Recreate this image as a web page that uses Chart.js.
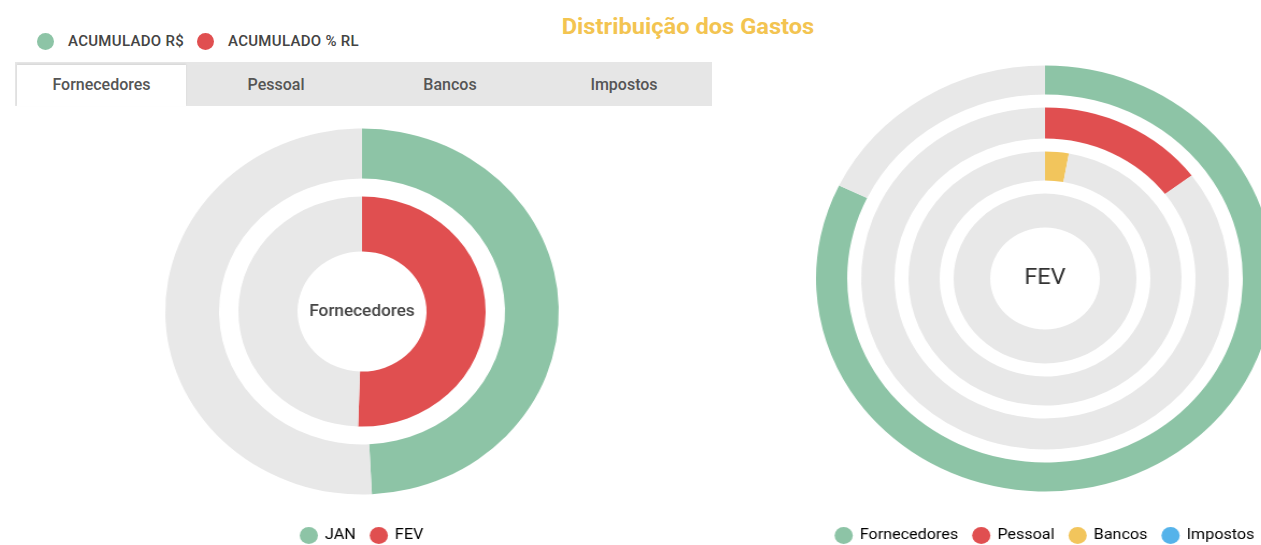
<!DOCTYPE html>
<html lang="pt-BR">
<head>
<meta charset="utf-8">
<title>Distribuição dos Gastos</title>
<script src="https://cdn.jsdelivr.net/npm/chart.js@4.4.1/dist/chart.umd.min.js"></script>
<style>
  html, body {
    margin: 0;
    padding: 0;
    width: 1261px;
    height: 545px;
    overflow: hidden;
    background: #fff;
    font-family: Roboto, "Open Sans", sans-serif;
    position: relative;
  }
  .title {
    position: absolute;
    left: 0;
    width: 1376px;
    top: 14px;
    text-align: center;
    font-size: 22px;
    font-weight: 700;
    color: #f3c451;
    transform: scaleX(1.075);
  }
  .topLegend {
    position: absolute;
    top: 32px;
    left: 37px;
    font-size: 15px;
    font-weight: 500;
    color: #444;
    display: flex;
    align-items: center;
    letter-spacing: 0.3px;
  }
  .dot {
    display: inline-block;
    width: 17px;
    height: 17px;
    border-radius: 50%;
    margin-right: 14px;
  }
  .tabs {
    position: absolute;
    left: 15px;
    top: 62px;
    width: 697px;
    height: 44px;
    background: #e6e6e6;
  }
  .tab {
    position: absolute;
    top: 0;
    width: 174px;
    height: 44px;
    text-align: center;
    line-height: 46px;
    font-size: 16px;
    font-weight: 500;
    color: #555;
  }
  .tab.active {
    background: #fff;
    top: 3px;
    height: 41px;
    width: 169px;
    line-height: 40px;
    box-shadow: 0 -1px 2px rgba(0, 0, 0, 0.08);
  }
  .chartBox {
    position: absolute;
    transform: scaleX(1.075);
    transform-origin: center center;
  }
</style>
</head>
<body>
<div class="title">Distribuição dos Gastos</div>

<div class="topLegend">
  <span class="dot" style="background:#8dc4a6"></span>
  <span style="margin-right:13px">ACUMULADO R$</span>
  <span class="dot" style="background:#e04f50"></span>
  <span>ACUMULADO % RL</span>
</div>

<div class="tabs">
  <div class="tab active" style="left:2px">Fornecedores</div>
  <div class="tab" style="left:174px">Pessoal</div>
  <div class="tab" style="left:348px">Bancos</div>
  <div class="tab" style="left:522px">Impostos</div>
</div>

<div class="chartBox" style="left:142px; top:109px; width:440px; height:444px;">
  <canvas id="mesesChart"></canvas>
</div>
<div class="chartBox" style="left:795px; top:43px; width:500px; height:510px;">
  <canvas id="gastosChart"></canvas>
</div>

<script>
// data (percentages)
const meses = ["JAN", "FEV"];
const fornecedoresPorMes = [49.2, 50.5];

const categorias = ["Fornecedores", "Pessoal", "Bancos", "Impostos"];
const gastosFev = [82.2, 14.7, 2.8, 0];

const coresMeses = ["#8dc4a6", "#e04f50"];
const coresCategorias = ["#8dc4a6", "#e04f50", "#f2c55c", "#55b3ea"];
const cinza = "#e8e8e8";

// ring thickness (relative weights) and gaps between rings
const pesosMeses = [50, 55];
const pesosCategorias = [29, 31, 29, 34];

// text in the middle of the doughnut
const centerText = {
  id: "centerText",
  afterDraw(chart, args, opts) {
    const { ctx, chartArea } = chart;
    const x = (chartArea.left + chartArea.right) / 2;
    const y = (chartArea.top + chartArea.bottom) / 2;
    ctx.save();
    ctx.font = opts.font;
    ctx.fillStyle = opts.color;
    ctx.textAlign = "center";
    ctx.textBaseline = "middle";
    ctx.fillText(opts.text, x, y);
    ctx.restore();
  },
};

function spacer(weight) {
  return {
    label: "",
    data: [100],
    backgroundColor: "rgba(0,0,0,0)",
    borderWidth: 0,
    weight: weight,
  };
}

function legendOptions(names, colors) {
  return {
    position: "bottom",
    onClick: null,
    labels: {
      usePointStyle: true,
      pointStyle: "circle",
      boxWidth: 26,
      boxHeight: 12,
      padding: 14,
      color: "#555",
      font: { family: "Roboto", size: 15 },
      generateLabels: () =>
        names.map((name, i) => ({
          text: name,
          fillStyle: colors[i],
          strokeStyle: colors[i],
          lineWidth: 0,
          pointStyle: "circle",
          datasetIndex: i,
        })),
    },
  };
}

// left: Fornecedores JAN x FEV
const mesesDatasets = [];
meses.forEach((mes, i) => {
  if (i > 0) mesesDatasets.push(spacer(18));
  mesesDatasets.push({
    label: mes,
    data: [fornecedoresPorMes[i], 100 - fornecedoresPorMes[i]],
    backgroundColor: [coresMeses[i], cinza],
    borderWidth: 0,
    weight: pesosMeses[i],
  });
});

new Chart(document.getElementById("mesesChart"), {
  type: "doughnut",
  data: { labels: meses, datasets: mesesDatasets },
  options: {
    responsive: true,
    maintainAspectRatio: false,
    animation: false,
    radius: 183,
    cutout: (60 / 183) * 100 + "%",
    plugins: {
      legend: legendOptions(meses, coresMeses),
      tooltip: { enabled: false },
      centerText: { text: "Fornecedores", font: "500 16px Roboto", color: "#444" },
    },
  },
  plugins: [centerText],
});

// right: distribution in FEV, one ring per category
const gastosDatasets = [];
categorias.forEach((cat, i) => {
  if (i > 0) gastosDatasets.push(spacer(13));
  gastosDatasets.push({
    label: cat,
    data: [gastosFev[i], 100 - gastosFev[i]],
    backgroundColor: [coresCategorias[i], cinza],
    borderWidth: 0,
    weight: pesosCategorias[i],
  });
});

new Chart(document.getElementById("gastosChart"), {
  type: "doughnut",
  data: { labels: categorias, datasets: gastosDatasets },
  options: {
    responsive: true,
    maintainAspectRatio: false,
    animation: false,
    radius: 213,
    cutout: (51 / 213) * 100 + "%",
    plugins: {
      legend: legendOptions(categorias, coresCategorias),
      tooltip: { enabled: false },
      centerText: { text: "FEV", font: "22px Roboto", color: "#333" },
    },
  },
  plugins: [centerText],
});
</script>
</body>
</html>
